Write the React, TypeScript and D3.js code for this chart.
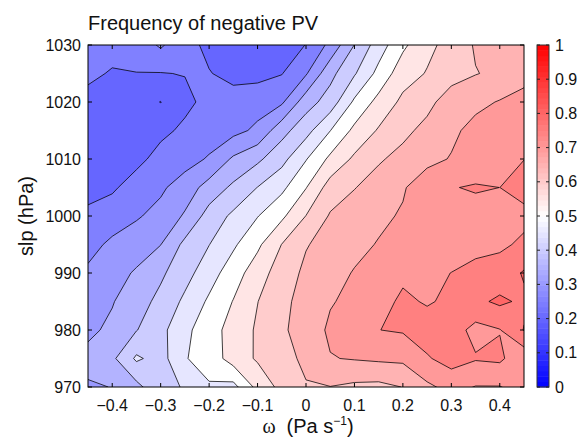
import React from 'react';
import * as d3 from 'd3';

// grid of omega bins (Pa s-1) and sea level pressure rows (hPa)
const omega = [-0.45, -0.4, -0.35, -0.3, -0.25, -0.2, -0.15, -0.1, -0.05, 0, 0.05, 0.1, 0.15, 0.2, 0.25, 0.3, 0.35, 0.4, 0.45];
const slp = [1030, 1025, 1020, 1015, 1010, 1005, 1000, 995, 990, 985, 980, 975, 970];

// frequency of negative PV, one row per slp level
const freq1030 = [0.27, 0.27, 0.27, 0.307, 0.265, 0.24, 0.22, 0.22, 0.23, 0.251, 0.313, 0.401, 0.475, 0.54, 0.588, 0.617, 0.655, 0.665, 0.67];
const freq1025 = [0.262, 0.245, 0.249, 0.248, 0.252, 0.252, 0.238, 0.235, 0.248, 0.295, 0.385, 0.445, 0.515, 0.579, 0.603, 0.63, 0.648, 0.66, 0.685];
const freq1020 = [0.232, 0.225, 0.22, 0.199, 0.235, 0.268, 0.267, 0.28, 0.292, 0.378, 0.422, 0.509, 0.566, 0.611, 0.635, 0.676, 0.688, 0.703, 0.715];
const freq1015 = [0.225, 0.22, 0.215, 0.235, 0.262, 0.275, 0.285, 0.31, 0.382, 0.432, 0.499, 0.562, 0.605, 0.637, 0.665, 0.69, 0.715, 0.725, 0.73];
const freq1010 = [0.22, 0.22, 0.232, 0.2725, 0.281, 0.305, 0.358, 0.39, 0.434, 0.497, 0.561, 0.609, 0.644, 0.666, 0.686, 0.703, 0.715, 0.73, 0.7494];
const freq1005 = [0.228, 0.24, 0.28, 0.292, 0.323, 0.37, 0.41, 0.451, 0.488, 0.548, 0.622, 0.648, 0.672, 0.695, 0.73, 0.7475, 0.755, 0.7499, 0.765];
const freq1000 = [0.264, 0.285, 0.295, 0.315, 0.356, 0.42, 0.46, 0.498, 0.54, 0.601, 0.655, 0.675, 0.69, 0.705, 0.715, 0.725, 0.73, 0.735, 0.739];
const freq995 = [0.29, 0.306, 0.325, 0.349, 0.4125, 0.449, 0.492, 0.54, 0.601, 0.647, 0.667, 0.687, 0.703, 0.712, 0.72, 0.73, 0.735, 0.742, 0.758];
const freq990 = [0.305, 0.33, 0.356, 0.391, 0.432, 0.478, 0.527, 0.577, 0.625, 0.66, 0.683, 0.703, 0.715, 0.739, 0.74, 0.7505, 0.765, 0.77, 0.805];
const freq985 = [0.325, 0.347, 0.378, 0.414, 0.46, 0.508, 0.552, 0.599, 0.637, 0.669, 0.697, 0.71, 0.73, 0.76, 0.745, 0.76, 0.789, 0.809, 0.791];
const freq980 = [0.34, 0.36, 0.398, 0.436, 0.487, 0.53, 0.568, 0.607, 0.641, 0.676, 0.707, 0.729, 0.7495, 0.755, 0.775, 0.7725, 0.735, 0.748, 0.802];
const freq975 = [0.364, 0.39, 0.458, 0.43, 0.497, 0.52, 0.573, 0.606, 0.63, 0.662, 0.698, 0.703, 0.708, 0.71, 0.745, 0.77, 0.754, 0.759, 0.715];
const freq970 = [0.345, 0.351, 0.385, 0.44, 0.4525, 0.495, 0.484, 0.565, 0.615, 0.646, 0.649, 0.64, 0.637, 0.651, 0.69, 0.716, 0.698, 0.698, 0.72];

const levels = [0.2, 0.25, 0.3, 0.35, 0.4, 0.45, 0.5, 0.55, 0.6, 0.65, 0.7, 0.75, 0.8];
const xTickValues = [-0.4, -0.3, -0.2, -0.1, 0, 0.1, 0.2, 0.3, 0.4];
const yTickValues = [970, 980, 990, 1000, 1010, 1020, 1030];
const barTickValues = [0, 0.1, 0.2, 0.3, 0.4, 0.5, 0.6, 0.7, 0.8, 0.9, 1];

const FONT = "'Liberation Sans', Arial, Helvetica, sans-serif";

// blue - white - red colormap
const colorAt = (v: number) => {
  if (v < 0.5) {
    const c = Math.round(510 * v);
    return `rgb(${c},${c},255)`;
  }
  const c = Math.round(510 * (1 - v));
  return `rgb(255,${c},${c})`;
};

const tickFmt = (v: number) => (Math.abs(v) < 1e-9 ? '0' : v === 1 ? '1' : d3.format('.1f')(v));

export default function App() {
  const left = 88, right = 524, top = 45, bottom = 387;
  const x = d3.scaleLinear().domain([-0.45, 0.45]).range([left, right]);
  const y = d3.scaleLinear().domain([970, 1030]).range([bottom, top]);

  const rows = [freq1030, freq1025, freq1020, freq1015, freq1010, freq1005, freq1000, freq995, freq990, freq985, freq980, freq975, freq970];
  const values = rows.flat();
  const bands = d3.contours().size([omega.length, slp.length]).thresholds(levels)(values);

  const stepX = omega[1] - omega[0];
  const stepY = slp[1] - slp[0];
  const toPlot = d3.geoTransform({
    point(px: number, py: number) {
      (this as any).stream.point(x(omega[0] + (px - 0.5) * stepX), y(slp[0] + (py - 0.5) * stepY));
    },
  });
  const path = d3.geoPath(toPlot);

  // colorbar
  const barX = 537, barW = 12;
  const bar = d3.scaleLinear().domain([0, 1]).range([bottom, top]);
  const steps = d3.range(0, 1, 1 / 64);

  return (
    <svg width={579} height={440} style={{ position: 'absolute', left: 0, top: 0, background: '#fff' }} fontFamily={FONT}>
      <defs>
        <clipPath id="plot-clip">
          <rect x={left} y={top} width={right - left} height={bottom - top} />
        </clipPath>
      </defs>

      <text x={left} y={29.5} fontSize={20} fill="#111">Frequency of negative PV</text>

      <g clipPath="url(#plot-clip)">
        <rect x={left} y={top} width={right - left} height={bottom - top} fill={colorAt(0.15)} />
        {bands.map(b => (
          <path key={b.value} d={path(b as any) || ''} fill={colorAt(b.value)} fillRule="evenodd" stroke="#000" strokeWidth={0.75} />
        ))}
      </g>
      <rect x={left} y={top} width={right - left} height={bottom - top} fill="none" stroke="#000" strokeWidth={1} />

      {xTickValues.map(v => (
        <g key={`x${v}`}>
          <line x1={x(v)} x2={x(v)} y1={bottom} y2={bottom - 4} stroke="#000" />
          <line x1={x(v)} x2={x(v)} y1={top} y2={top + 4} stroke="#000" />
          <text x={x(v)} y={411} fontSize={16} textAnchor="middle" fill="#111">{tickFmt(v)}</text>
        </g>
      ))}
      {yTickValues.map(v => (
        <g key={`y${v}`}>
          <line x1={left} x2={left + 4} y1={y(v)} y2={y(v)} stroke="#000" />
          <line x1={right} x2={right - 4} y1={y(v)} y2={y(v)} stroke="#000" />
          <text x={81} y={y(v) + 5.6} fontSize={16} textAnchor="end" fill="#111">{v}</text>
        </g>
      ))}

      <text x={308} y={433} fontSize={20} textAnchor="middle" fill="#111">
        <tspan fontFamily="'Liberation Serif', 'Times New Roman', serif">ω</tspan>
        <tspan dx={11}>(Pa s</tspan>
        <tspan fontSize={12} dy={-8}>−1</tspan>
        <tspan dy={8}>)</tspan>
      </text>
      <text transform="translate(33,216) rotate(-90)" fontSize={20} textAnchor="middle" fill="#111">slp (hPa)</text>

      {steps.map(s => (
        <rect key={s} x={barX} y={bar(s + 1 / 64)} width={barW} height={bar(s) - bar(s + 1 / 64) + 0.5} fill={colorAt(s + 0.5 / 64)} />
      ))}
      <rect x={barX} y={top} width={barW} height={bottom - top} fill="none" stroke="#333" strokeWidth={1} />
      {barTickValues.map(v => (
        <g key={`c${v}`}>
          <line x1={barX} x2={barX + 3} y1={bar(v)} y2={bar(v)} stroke="#222" />
          <line x1={barX + barW} x2={barX + barW - 3} y1={bar(v)} y2={bar(v)} stroke="#222" />
          <text x={555} y={bar(v) + 5.6} fontSize={16} fill="#111">{tickFmt(v)}</text>
        </g>
      ))}
    </svg>
  );
}
